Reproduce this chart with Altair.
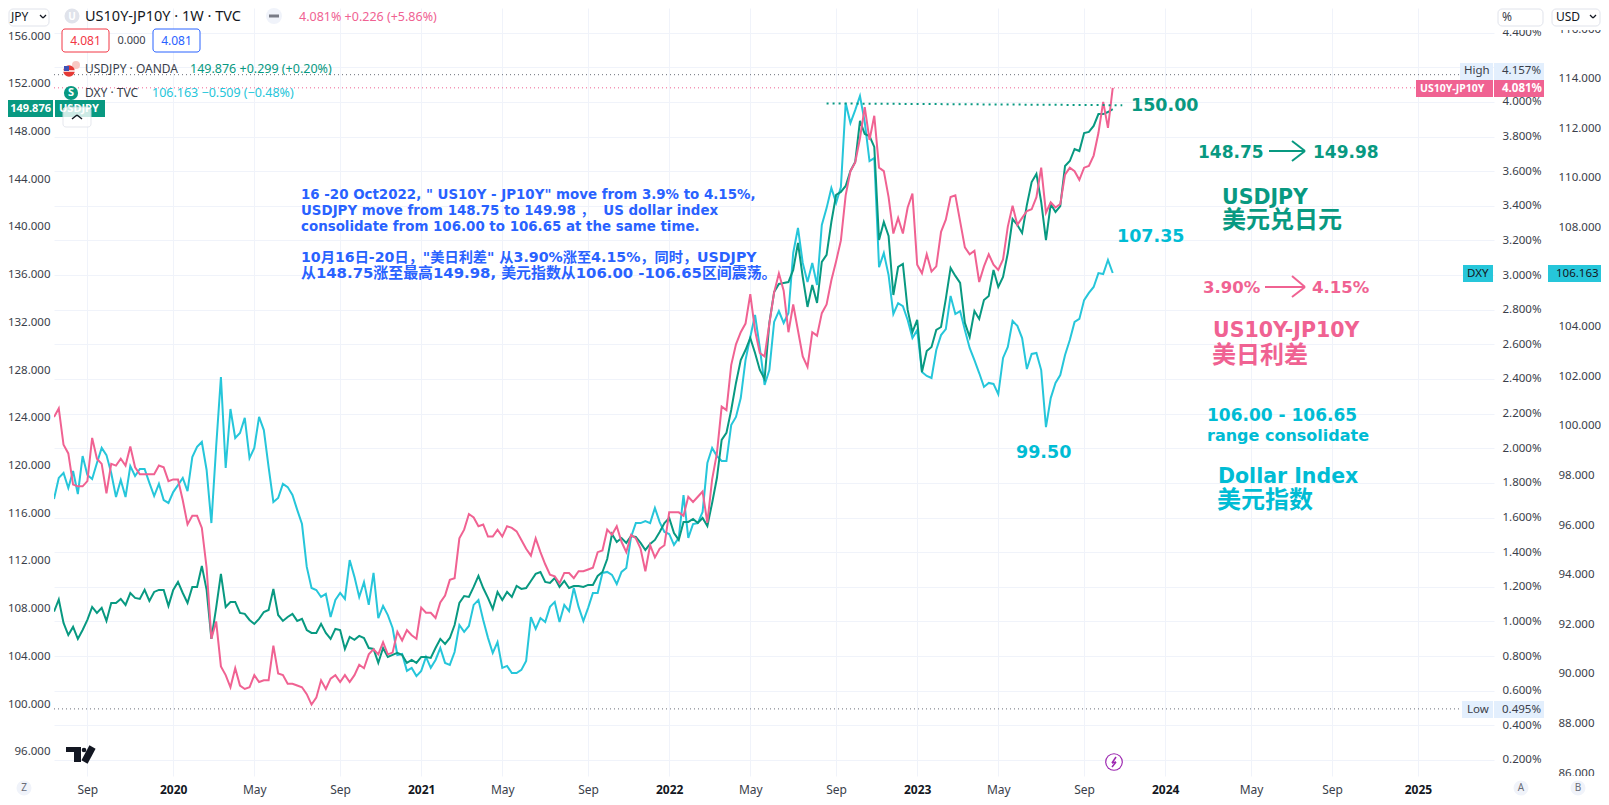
import altair as alt
import pandas as pd

START = "2019-07-15"
SPREAD = [2.18,2.23,2.02,1.97,1.79,1.78,1.78,1.81,2.06,1.94,1.91,1.74,1.91,1.90,1.94,1.90,2.01,1.89,1.85,1.85,1.85,1.85,1.90,1.89,1.81,1.82,1.82,1.70,1.56,1.61,1.61,1.54,1.31,0.90,1.00,0.74,0.69,0.62,0.73,0.63,0.61,0.62,0.69,0.65,0.66,0.66,0.86,0.70,0.69,0.64,0.64,0.63,0.62,0.58,0.52,0.56,0.66,0.61,0.67,0.69,0.65,0.69,0.65,0.69,0.75,0.73,0.81,0.84,0.81,0.88,0.81,0.82,0.94,0.89,0.95,0.92,0.90,1.08,1.05,1.05,1.02,1.11,1.15,1.24,1.25,1.48,1.53,1.62,1.60,1.55,1.56,1.49,1.49,1.53,1.49,1.55,1.54,1.52,1.47,1.42,1.38,1.48,1.40,1.33,1.27,1.26,1.22,1.28,1.28,1.25,1.29,1.29,1.30,1.31,1.40,1.41,1.53,1.50,1.55,1.46,1.40,1.50,1.48,1.42,1.29,1.44,1.37,1.42,1.44,1.63,1.63,1.63,1.61,1.72,1.69,1.72,1.75,1.57,1.82,1.97,2.24,2.22,2.48,2.60,2.67,2.72,2.89,2.68,2.55,2.53,2.72,2.90,3.01,2.91,2.67,2.83,2.68,2.53,2.47,2.67,2.65,2.78,2.83,2.97,3.08,3.20,3.46,3.60,3.65,3.79,3.97,3.78,3.92,3.62,3.60,3.45,3.24,3.33,3.24,3.39,3.47,3.06,3.01,3.12,3.02,3.05,3.25,3.32,3.45,3.46,3.31,3.16,3.12,3.14,2.96,3.05,3.12,3.06,3.03,3.09,3.28,3.40,3.29,3.33,3.37,3.38,3.45,3.62,3.36,3.42,3.39,3.41,3.58,3.62,3.60,3.55,3.62,3.63,3.69,3.82,4.00,3.85,4.081]
USDJPY = [107.75,108.77,106.80,105.79,106.47,105.46,106.21,107.05,108.14,107.64,108.06,106.97,108.48,108.48,108.81,108.31,109.31,108.90,108.81,109.57,108.64,109.40,109.57,109.57,108.23,109.57,110.24,109.31,108.48,109.82,109.82,111.58,109.57,105.46,108.06,110.91,108.14,108.56,108.56,107.64,107.56,107.05,106.72,107.14,107.72,107.89,109.65,107.47,106.97,107.30,107.56,106.97,107.14,106.21,105.96,105.96,106.72,105.96,105.46,106.30,106.21,104.62,105.63,105.38,105.71,105.54,104.70,104.62,103.45,104.70,103.95,104.12,104.29,104.12,103.45,103.70,103.45,103.95,103.95,103.87,104.70,105.46,105.04,105.54,106.63,108.48,109.06,108.98,109.82,110.74,109.73,108.90,107.97,109.40,108.73,109.40,108.98,109.90,109.65,109.73,110.32,110.91,111.07,110.24,110.15,110.57,109.82,110.32,109.73,109.90,109.90,109.82,109.99,109.99,110.74,111.07,112.16,114.26,113.59,113.92,113.51,114.09,114.01,113.51,112.92,113.42,113.76,114.43,115.18,115.60,114.34,113.76,115.27,115.27,115.52,115.18,115.60,114.93,116.86,118.95,122.14,122.73,124.65,126.92,128.84,129.68,130.69,129.43,128.01,127.25,131.95,134.54,135.22,135.30,135.38,136.39,138.65,135.80,133.29,135.13,133.62,137.06,137.65,140.41,142.68,142.93,143.43,144.69,145.44,148.88,147.79,147.62,146.70,138.90,140.41,139.24,134.29,136.64,136.89,133.04,131.19,132.20,127.84,129.60,129.93,131.36,131.61,133.96,136.56,135.89,135.30,131.95,130.77,132.95,132.28,133.87,134.21,136.39,134.96,135.80,137.81,140.66,140.16,139.49,141.84,143.76,144.44,142.09,138.90,141.92,141.25,141.75,145.11,145.52,146.53,146.36,147.87,147.96,148.46,149.46,149.46,149.63,149.876]
DXY = [97.05,97.90,98.10,97.49,98.18,97.25,98.78,98.02,97.86,98.50,99.11,98.82,98.10,97.13,97.82,97.13,98.38,97.98,98.26,98.26,97.70,97.17,97.66,97.01,96.89,97.33,97.61,97.90,97.37,98.74,99.15,99.35,98.22,96.08,99.15,101.97,98.30,100.68,99.51,99.71,100.32,98.70,99.11,100.36,99.83,98.34,96.93,97.09,97.66,97.53,97.21,96.61,96.04,94.31,93.46,93.38,93.10,93.22,92.29,92.98,93.26,93.02,94.59,93.91,93.10,93.70,92.78,94.07,92.25,92.74,92.37,91.85,90.76,90.80,90.12,90.24,89.91,90.12,90.68,90.24,90.56,91.04,90.44,90.36,90.88,91.97,91.69,91.93,92.78,92.98,92.17,91.45,90.84,91.28,90.24,90.32,90.03,90.03,90.16,90.52,92.29,91.81,92.25,92.09,92.70,92.90,92.09,92.78,92.53,93.46,92.70,92.13,92.66,93.26,93.26,94.07,94.11,93.99,93.62,94.11,94.27,95.52,96.08,96.08,96.16,96.08,96.69,96.12,95.72,95.64,95.20,95.48,97.21,95.48,96.04,96.08,96.53,98.50,99.11,98.78,98.58,98.58,100.03,100.36,101.12,102.65,103.58,104.47,103.14,101.65,102.25,104.19,104.63,104.15,104.55,106.97,107.98,106.57,105.80,106.57,105.68,108.10,108.78,109.59,108.99,109.63,113.02,112.21,112.73,113.30,112.25,110.68,110.80,106.40,106.97,106.08,104.51,104.95,104.83,104.27,103.54,103.86,102.17,102.01,101.93,103.06,103.66,103.90,105.24,104.51,104.63,103.86,103.14,102.65,102.13,101.57,101.73,101.69,101.28,102.74,103.18,104.23,104.03,103.54,102.29,102.90,102.94,102.25,99.95,101.12,101.73,102.05,102.86,103.46,104.19,104.31,105.07,105.36,105.60,106.16,106.12,106.69,106.163]
assert len(SPREAD) == len(USDJPY) == len(DXY) == 223, (len(SPREAD), len(USDJPY), len(DXY))

JPY_TICKS = [96,100,104,108,112,116,120,124,128,132,136,140,144,148,152,156]
PCT_TICKS = [0.2,0.4,0.6,0.8,1.0,1.2,1.4,1.6,1.8,2.0,2.2,2.4,2.6,2.8,3.0,3.2,3.4,3.6,3.8,4.0,4.2,4.4]
USD_TICKS = [86,88,90,92,94,96,98,100,102,104,106,108,110,112,114,116]
MONTH_TICKS = [(2019,9,2),(2020,1,6),(2020,5,4),(2020,9,7),(2021,1,4),(2021,5,3),(2021,9,6),(2022,1,3),(2022,5,2),(2022,9,5),(2023,1,2),(2023,5,1),(2023,9,4),(2024,1,1),(2024,5,6),(2024,9,2),(2025,1,6)]
HIGH, LAST, LOW = 4.157, 4.081, 0.495

GREEN, PINK, CYAN = "#089981", "#F06292", "#26C6DA"
ANN_CYAN = "#00BCD4"
BLUE = "#2962FF"
GRID = "#F0F3FA"
BORDER = "#E0E3EB"
DARK = "#131722"
UI = "Noto Sans"
ANN = "DejaVu Sans, Noto Sans CJK SC"

X0, Y0 = 54, 8
W, H = 1440, 768
SVG_W, SVG_H = 1593, 789
dates = pd.date_range(START, periods=223, freq="7D")
df = pd.DataFrame({"date": dates, "spread": SPREAD, "usdjpy": USDJPY, "dxy": DXY})
one = pd.DataFrame({"a": [0]})

xs = alt.Scale(domain=[alt.DateTime(year=2019, month=7, date=15),
                       alt.DateTime(year=2025, month=4, date=27, hours=15)], nice=False)
jpy_s = alt.Scale(domain=[93.97, 158.35], nice=False, zero=False)
pct_s = alt.Scale(domain=[0.1076, 4.542], nice=False, zero=False)
usd_s = alt.Scale(domain=[85.88, 116.85], nice=False, zero=False)

x_axis = alt.Axis(
    values=[alt.DateTime(year=a, month=b, date=c) for a, b, c in MONTH_TICKS],
    labelExpr="month(datum.value)==0 ? timeFormat(datum.value,'%Y') : timeFormat(datum.value,'%b')",
    title=None, domain=False, ticks=False, grid=True, gridColor=GRID, labelPadding=8,
    labelFont=UI, labelFontSize=12, labelOverlap=False, labelFlush=False, labelBound=False,
    labelColor={"condition": {"test": "month(datum.value)==0", "value": DARK}, "value": "#3a3e4a"},
    labelFontWeight={"condition": {"test": "month(datum.value)==0", "value": "bold"}, "value": "normal"},
)

def y_axis(values, orient, pad, expr, grid=False):
    return alt.Axis(values=values, orient=orient, title=None, domain=False, ticks=False, grid=grid,
                    gridColor=GRID, labelPadding=pad, labelFont=UI, labelFontSize=11.5,
                    labelColor="#3a3e4a", labelOverlap=False, labelFlush=False, labelBound=False,
                    labelAlign="right" if orient == "left" else "left", labelExpr=expr)

line_x = alt.X("date:T", scale=xs, axis=x_axis)
cyan_l = alt.Chart(df).mark_line(color=CYAN, strokeWidth=2, clip=True).encode(
    x=line_x,
    y=alt.Y("dxy:Q", scale=usd_s, axis=y_axis(
        USD_TICKS, "right", 64, "datum.value==106 ? '' : format(datum.value,'.3f')")))
green_l = alt.Chart(df).mark_line(color=GREEN, strokeWidth=2, clip=True).encode(
    x=line_x,
    y=alt.Y("usdjpy:Q", scale=jpy_s, axis=y_axis(JPY_TICKS, "left", 4, "format(datum.value,'.3f')")))
pink_l = alt.Chart(df).mark_line(color=PINK, strokeWidth=2, clip=True).encode(
    x=line_x,
    y=alt.Y("spread:Q", scale=pct_s, axis=y_axis(
        PCT_TICKS, "right", 8, "datum.value==4.2 ? '' : format(datum.value,'.3f')+'%'", grid=True)))


def level(value, x_end, color):
    return alt.Chart(pd.DataFrame({"v": [value]})).mark_rule(color=color, strokeWidth=1, strokeDash=[1, 3]).encode(
        y=alt.Y("v:Q", scale=pct_s, axis=None), x=alt.value(0), x2=alt.value(x_end - X0))


def T(s, x, y, color=DARK, size=12, weight="normal", font=UI, align="left"):
    return alt.Chart(one).mark_text(text=s, color=color, fontSize=size, fontWeight=weight, font=font,
                                    align=align, baseline="middle").encode(
        x=alt.value(x - X0), y=alt.value(y - Y0))


def R(x1, y1, x2, y2, fill="#FFFFFF", stroke=None, radius=0, opacity=1.0):
    kw = {"fill": fill, "cornerRadius": radius, "opacity": opacity}
    if stroke:
        kw.update(stroke=stroke, strokeWidth=1)
    return alt.Chart(one).mark_rect(**kw).encode(
        x=alt.value(x1 - X0), x2=alt.value(x2 - X0), y=alt.value(y1 - Y0), y2=alt.value(y2 - Y0))


def L(x1, y1, x2, y2, color, w=2):
    return alt.Chart(one).mark_rule(color=color, strokeWidth=w).encode(
        x=alt.value(x1 - X0), x2=alt.value(x2 - X0), y=alt.value(y1 - Y0), y2=alt.value(y2 - Y0))


def C(x, y, r, fill):
    return alt.Chart(one).mark_circle(color=fill, opacity=1, size=3.1416 * r * r).encode(
        x=alt.value(x - X0), y=alt.value(y - Y0))


trend = alt.Chart(pd.DataFrame({
    "date": pd.to_datetime(["2022-08-22", "2023-10-30"]), "v": [150.35, 150.2]})).mark_line(
    color=GREEN, strokeWidth=2, strokeDash=[2, 4]).encode(
    x=line_x, y=alt.Y("v:Q", scale=jpy_s, axis=None))

layers = [cyan_l, green_l, pink_l,
          level(HIGH, 1460, "#6A6D78"), level(LOW, 1462, "#6A6D78"), level(LAST, 1416, PINK), trend]

# notes
NOTE = {"color": BLUE, "size": 13.4, "weight": "bold", "font": ANN}
BIG = {"size": 20.5, "weight": "bold", "font": ANN}
layers += [
    T('16 -20 Oct2022, " US10Y - JP10Y" move from 3.9% to 4.15%,', 301, 194.5, **NOTE),
    T("USDJPY move from 148.75 to 149.98 ，\u00a0\u00a0US dollar index", 301, 210.5, **NOTE),
    T("consolidate from 106.00 to 106.65 at the same time.", 301, 226.5, **NOTE),
    T('10月16日-20日，"美日利差" 从3.90%涨至4.15%，同时，USDJPY', 301, 258, color=BLUE, size=14.2, weight="bold", font=ANN),
    T("从148.75涨至最高149.98, 美元指数从106.00 -106.65区间震荡。", 301, 274, color=BLUE, size=14.9, weight="bold", font=ANN),
    T("150.00", 1131, 106, GREEN, 17.5, "bold", ANN),
    T("148.75", 1198, 153, GREEN, 17, "bold", ANN),
    T("149.98", 1313, 153, GREEN, 17, "bold", ANN),
    L(1269, 151, 1305, 151, GREEN), L(1292, 141, 1305, 151, GREEN), L(1292, 161, 1305, 151, GREEN),
    T("USDJPY", 1222, 198, GREEN, **BIG),
    T("美元兑日元", 1222, 221, GREEN, 24, "bold", ANN),
    T("107.35", 1117, 237, ANN_CYAN, 17.5, "bold", ANN),
    T("3.90%", 1203, 288, PINK, 16.5, "bold", ANN),
    T("4.15%", 1312, 288, PINK, 16.5, "bold", ANN),
    L(1265, 287, 1305, 287, PINK), L(1292, 276, 1305, 287, PINK), L(1292, 297, 1305, 287, PINK),
    T("US10Y-JP10Y", 1213, 331, PINK, **BIG),
    T("美日利差", 1212, 356, PINK, 24, "bold", ANN),
    T("106.00 - 106.65", 1207, 416, ANN_CYAN, 17, "bold", ANN),
    T("range consolidate", 1207, 436, ANN_CYAN, 16, "bold", ANN),
    T("Dollar Index", 1218, 477, ANN_CYAN, **BIG),
    T("美元指数", 1217, 501, ANN_CYAN, 24, "bold", ANN),
    T("99.50", 1016, 453, ANN_CYAN, 17.5, "bold", ANN),
]

# logo and lightning badge
layers += [
    R(66, 747, 81, 752, DARK), R(74, 747, 81, 762, DARK), C(84, 750, 2.6, DARK), L(92.5, 747, 84.5, 762, DARK, 7),
    C(1114, 762, 10, "#9C27B0"), C(1114, 762, 8.7, "#FFFFFF"),
    L(1116, 757, 1112, 763, "#9C27B0", 1.5), L(1112, 763, 1116, 762, "#9C27B0", 1.5), L(1116, 762, 1112, 767, "#9C27B0", 1.5),
]

# covers for price scales, header and footer
layers += [R(1495, 8, 1601, 30), R(1495, 776, 1601, 797)]

# pills
layers += [
    R(1460, 63, 1493, 80, "#E3EFFD"), R(1494, 63, 1544, 80, "#E3EFFD"),
    T("High", 1464, 71, "#3a3e4a", 11.5), T("4.157%", 1502, 71, "#3a3e4a", 11.5),
    R(1416, 80, 1493, 97, PINK), R(1494, 80, 1544, 97, PINK),
    T("US10Y-JP10Y", 1420, 89, "#FFFFFF", 10.5, "bold"), T("4.081%", 1502, 89, "#FFFFFF", 11.5, "bold"),
    R(1463, 265, 1493, 282, CYAN), R(1548, 265, 1601, 282, CYAN),
    T("DXY", 1467, 274, DARK, 11.5), T("106.163", 1556, 274, DARK, 11.5),
    R(1462, 701, 1493, 718, "#E3EFFD"), R(1494, 701, 1544, 718, "#E3EFFD"),
    T("Low", 1467, 710, "#3a3e4a", 11.5), T("0.495%", 1502, 710, "#3a3e4a", 11.5),
    R(8, 100, 53, 117, GREEN), R(55, 100, 105, 117, GREEN),
    T("149.876", 51, 109, "#FFFFFF", 11, "bold", align="right"), T("USDJPY", 59, 109, "#FFFFFF", 11, "bold"),
    R(63, 107, 91, 127, "#FFFFFF", BORDER, 3, 0.8),
    L(72, 119, 77, 115, DARK, 1.5), L(82, 119, 77, 115, DARK, 1.5),
]

# header rows
layers += [
    R(9, 9, 49, 26, "#FFFFFF", BORDER, 4), T("JPY", 11, 17, DARK, 12),
    L(40, 15, 43, 18, DARK, 1.3), L(46, 15, 43, 18, DARK, 1.3),
    C(72, 16, 8.5, BORDER), T("U", 72, 17, "#FFFFFF", 10, "bold", align="center"),
    T("US10Y-JP10Y · 1W · TVC", 85, 17, DARK, 14.5),
    C(274, 16, 9, GRID), L(269, 16, 279, 16, "#787B86", 3),
    T("4.081%  +0.226 (+5.86%)", 299, 17, PINK, 12.5),
    R(62, 29, 109, 52, "#FFFFFF", "#F23645", 3), T("4.081", 85.5, 41, "#F23645", 12, align="center"),
    T("0.000", 131.5, 41, "#3a3e4a", 11, align="center"),
    R(153, 29, 200, 52, "#FFFFFF", BLUE, 3), T("4.081", 176.5, 41, BLUE, 12, align="center"),
    C(76, 65, 4.5, "#F8C9C4"), C(69, 71, 6.5, "#E53935"), L(63, 71, 75, 71, "#FFFFFF", 1.5), R(64, 66, 69, 71, "#3F51B5"),
    T("USDJPY · OANDA", 85, 69, "#3a3e4a", 12),
    T("149.876  +0.299 (+0.20%)", 190, 69, GREEN, 12.5),
    C(71, 93, 8, GREEN), T("S", 71, 93, "#FFFFFF", 11, "bold", align="center"),
    T("DXY · TVC", 85, 93, "#3a3e4a", 12),
    T("106.163  −0.509 (−0.48%)", 152, 93, "#26C6DA", 12.5),
    R(1498, 9, 1543, 26, "#FFFFFF", BORDER, 4), T("%", 1502, 17, "#3a3e4a", 12),
    R(1552, 9, 1600, 26, "#FFFFFF", BORDER, 4), T("USD", 1556, 17, DARK, 12),
    L(1590, 15, 1593, 18, DARK, 1.3), L(1596, 15, 1593, 18, DARK, 1.3),
    C(24, 788, 8.5, GRID), T("Z", 24, 788, "#6A6D78", 10, align="center"),
    C(1521, 788, 8.5, GRID), T("A", 1521, 788, "#6A6D78", 10, align="center"),
    C(1578, 788, 8.5, GRID), T("B", 1578, 788, "#6A6D78", 10, align="center"),
]

chart = alt.layer(*layers).resolve_scale(y="independent").properties(
    width=W, height=H,
    padding={"left": X0 - 8, "top": 0, "right": SVG_W - (X0 - 8) - W, "bottom": SVG_H - H},
    autosize=alt.AutoSizeParams(type="none"),
    background="#FFFFFF",
).configure_view(stroke=None)

chart.save("out.html", embed_options={"renderer": "svg", "actions": False})
